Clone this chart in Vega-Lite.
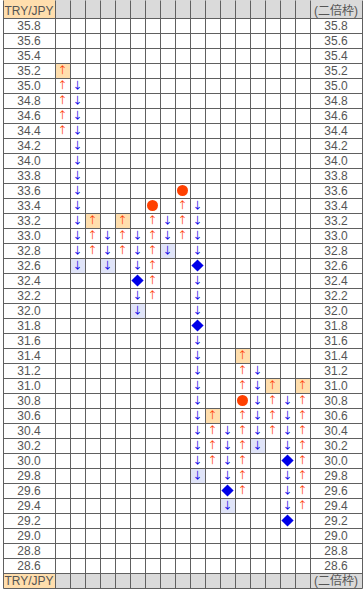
{
  "$schema": "https://vega.github.io/schema/vega-lite/v6.json",
  "width": 359,
  "height": 588,
  "autosize": {"type": "none"},
  "padding": {"left": 3, "top": 0, "right": 2, "bottom": 7},
  "background": "white",
  "config": {
    "view": {"stroke": null},
    "axis": {"domain": false, "ticks": false, "labels": false, "grid": false, "titleOpacity": 0}
  },
  "datasets": {
    "cells": [
      {"col": 1, "price": 35.2, "mark": "↑", "hl": "o"},
      {"col": 1, "price": 35.0, "mark": "↑"},
      {"col": 1, "price": 34.8, "mark": "↑"},
      {"col": 1, "price": 34.6, "mark": "↑"},
      {"col": 1, "price": 34.4, "mark": "↑"},
      {"col": 2, "price": 35.0, "mark": "↓"},
      {"col": 2, "price": 34.8, "mark": "↓"},
      {"col": 2, "price": 34.6, "mark": "↓"},
      {"col": 2, "price": 34.4, "mark": "↓"},
      {"col": 2, "price": 34.2, "mark": "↓"},
      {"col": 2, "price": 34.0, "mark": "↓"},
      {"col": 2, "price": 33.8, "mark": "↓"},
      {"col": 2, "price": 33.6, "mark": "↓"},
      {"col": 2, "price": 33.4, "mark": "↓"},
      {"col": 2, "price": 33.2, "mark": "↓"},
      {"col": 2, "price": 33.0, "mark": "↓"},
      {"col": 2, "price": 32.8, "mark": "↓"},
      {"col": 2, "price": 32.6, "mark": "↓", "hl": "b"},
      {"col": 3, "price": 33.2, "mark": "↑", "hl": "o"},
      {"col": 3, "price": 33.0, "mark": "↑"},
      {"col": 3, "price": 32.8, "mark": "↑"},
      {"col": 4, "price": 33.0, "mark": "↓"},
      {"col": 4, "price": 32.8, "mark": "↓"},
      {"col": 4, "price": 32.6, "mark": "↓", "hl": "b"},
      {"col": 5, "price": 33.2, "mark": "↑", "hl": "o"},
      {"col": 5, "price": 33.0, "mark": "↑"},
      {"col": 5, "price": 32.8, "mark": "↑"},
      {"col": 6, "price": 33.0, "mark": "↓"},
      {"col": 6, "price": 32.8, "mark": "↓"},
      {"col": 6, "price": 32.6, "mark": "↓"},
      {"col": 6, "price": 32.4, "mark": "◆"},
      {"col": 6, "price": 32.2, "mark": "↓"},
      {"col": 6, "price": 32.0, "mark": "↓", "hl": "b"},
      {"col": 7, "price": 33.4, "mark": "●"},
      {"col": 7, "price": 33.2, "mark": "↑"},
      {"col": 7, "price": 33.0, "mark": "↑"},
      {"col": 7, "price": 32.8, "mark": "↑"},
      {"col": 7, "price": 32.6, "mark": "↑"},
      {"col": 7, "price": 32.4, "mark": "↑"},
      {"col": 7, "price": 32.2, "mark": "↑"},
      {"col": 8, "price": 33.2, "mark": "↓"},
      {"col": 8, "price": 33.0, "mark": "↓"},
      {"col": 8, "price": 32.8, "mark": "↓", "hl": "b"},
      {"col": 9, "price": 33.6, "mark": "●"},
      {"col": 9, "price": 33.4, "mark": "↑"},
      {"col": 9, "price": 33.2, "mark": "↑"},
      {"col": 9, "price": 33.0, "mark": "↑"},
      {"col": 10, "price": 33.4, "mark": "↓"},
      {"col": 10, "price": 33.2, "mark": "↓"},
      {"col": 10, "price": 33.0, "mark": "↓"},
      {"col": 10, "price": 32.8, "mark": "↓"},
      {"col": 10, "price": 32.6, "mark": "◆"},
      {"col": 10, "price": 32.4, "mark": "↓"},
      {"col": 10, "price": 32.2, "mark": "↓"},
      {"col": 10, "price": 32.0, "mark": "↓"},
      {"col": 10, "price": 31.8, "mark": "◆"},
      {"col": 10, "price": 31.6, "mark": "↓"},
      {"col": 10, "price": 31.4, "mark": "↓"},
      {"col": 10, "price": 31.2, "mark": "↓"},
      {"col": 10, "price": 31.0, "mark": "↓"},
      {"col": 10, "price": 30.8, "mark": "↓"},
      {"col": 10, "price": 30.6, "mark": "↓"},
      {"col": 10, "price": 30.4, "mark": "↓"},
      {"col": 10, "price": 30.2, "mark": "↓"},
      {"col": 10, "price": 30.0, "mark": "↓"},
      {"col": 10, "price": 29.8, "mark": "↓", "hl": "b"},
      {"col": 11, "price": 30.6, "mark": "↑", "hl": "o"},
      {"col": 11, "price": 30.4, "mark": "↑"},
      {"col": 11, "price": 30.2, "mark": "↑"},
      {"col": 11, "price": 30.0, "mark": "↑"},
      {"col": 12, "price": 30.4, "mark": "↓"},
      {"col": 12, "price": 30.2, "mark": "↓"},
      {"col": 12, "price": 30.0, "mark": "↓"},
      {"col": 12, "price": 29.8, "mark": "↓"},
      {"col": 12, "price": 29.6, "mark": "◆"},
      {"col": 12, "price": 29.4, "mark": "↓", "hl": "b"},
      {"col": 13, "price": 31.4, "mark": "↑", "hl": "o"},
      {"col": 13, "price": 31.2, "mark": "↑"},
      {"col": 13, "price": 31.0, "mark": "↑"},
      {"col": 13, "price": 30.8, "mark": "●"},
      {"col": 13, "price": 30.6, "mark": "↑"},
      {"col": 13, "price": 30.4, "mark": "↑"},
      {"col": 13, "price": 30.2, "mark": "↑"},
      {"col": 13, "price": 30.0, "mark": "↑"},
      {"col": 13, "price": 29.8, "mark": "↑"},
      {"col": 13, "price": 29.6, "mark": "↑"},
      {"col": 14, "price": 31.2, "mark": "↓"},
      {"col": 14, "price": 31.0, "mark": "↓"},
      {"col": 14, "price": 30.8, "mark": "↓"},
      {"col": 14, "price": 30.6, "mark": "↓"},
      {"col": 14, "price": 30.4, "mark": "↓"},
      {"col": 14, "price": 30.2, "mark": "↓", "hl": "b"},
      {"col": 15, "price": 31.0, "mark": "↑", "hl": "o"},
      {"col": 15, "price": 30.8, "mark": "↑"},
      {"col": 15, "price": 30.6, "mark": "↑"},
      {"col": 15, "price": 30.4, "mark": "↑"},
      {"col": 16, "price": 30.8, "mark": "↓"},
      {"col": 16, "price": 30.6, "mark": "↓"},
      {"col": 16, "price": 30.4, "mark": "↓"},
      {"col": 16, "price": 30.2, "mark": "↓"},
      {"col": 16, "price": 30.0, "mark": "◆"},
      {"col": 16, "price": 29.8, "mark": "↓"},
      {"col": 16, "price": 29.6, "mark": "↓"},
      {"col": 16, "price": 29.4, "mark": "↓"},
      {"col": 16, "price": 29.2, "mark": "◆"},
      {"col": 17, "price": 31.0, "mark": "↑", "hl": "o"},
      {"col": 17, "price": 30.8, "mark": "↑"},
      {"col": 17, "price": 30.6, "mark": "↑"},
      {"col": 17, "price": 30.4, "mark": "↑"},
      {"col": 17, "price": 30.2, "mark": "↑"},
      {"col": 17, "price": 30.0, "mark": "↑"},
      {"col": 17, "price": 29.8, "mark": "↑"},
      {"col": 17, "price": 29.6, "mark": "↑"},
      {"col": 17, "price": 29.4, "mark": "↑"}
    ],
    "labels": [
      {"col": 0, "price": 35.8}, {"col": 0, "price": 35.6}, {"col": 0, "price": 35.4}, {"col": 0, "price": 35.2}, {"col": 0, "price": 35.0},
      {"col": 0, "price": 34.8}, {"col": 0, "price": 34.6}, {"col": 0, "price": 34.4}, {"col": 0, "price": 34.2}, {"col": 0, "price": 34.0},
      {"col": 0, "price": 33.8}, {"col": 0, "price": 33.6}, {"col": 0, "price": 33.4}, {"col": 0, "price": 33.2}, {"col": 0, "price": 33.0},
      {"col": 0, "price": 32.8}, {"col": 0, "price": 32.6}, {"col": 0, "price": 32.4}, {"col": 0, "price": 32.2}, {"col": 0, "price": 32.0},
      {"col": 0, "price": 31.8}, {"col": 0, "price": 31.6}, {"col": 0, "price": 31.4}, {"col": 0, "price": 31.2}, {"col": 0, "price": 31.0},
      {"col": 0, "price": 30.8}, {"col": 0, "price": 30.6}, {"col": 0, "price": 30.4}, {"col": 0, "price": 30.2}, {"col": 0, "price": 30.0},
      {"col": 0, "price": 29.8}, {"col": 0, "price": 29.6}, {"col": 0, "price": 29.4}, {"col": 0, "price": 29.2}, {"col": 0, "price": 29.0},
      {"col": 0, "price": 28.8}, {"col": 0, "price": 28.6},
      {"col": 18, "price": 35.8}, {"col": 18, "price": 35.6}, {"col": 18, "price": 35.4}, {"col": 18, "price": 35.2}, {"col": 18, "price": 35.0},
      {"col": 18, "price": 34.8}, {"col": 18, "price": 34.6}, {"col": 18, "price": 34.4}, {"col": 18, "price": 34.2}, {"col": 18, "price": 34.0},
      {"col": 18, "price": 33.8}, {"col": 18, "price": 33.6}, {"col": 18, "price": 33.4}, {"col": 18, "price": 33.2}, {"col": 18, "price": 33.0},
      {"col": 18, "price": 32.8}, {"col": 18, "price": 32.6}, {"col": 18, "price": 32.4}, {"col": 18, "price": 32.2}, {"col": 18, "price": 32.0},
      {"col": 18, "price": 31.8}, {"col": 18, "price": 31.6}, {"col": 18, "price": 31.4}, {"col": 18, "price": 31.2}, {"col": 18, "price": 31.0},
      {"col": 18, "price": 30.8}, {"col": 18, "price": 30.6}, {"col": 18, "price": 30.4}, {"col": 18, "price": 30.2}, {"col": 18, "price": 30.0},
      {"col": 18, "price": 29.8}, {"col": 18, "price": 29.6}, {"col": 18, "price": 29.4}, {"col": 18, "price": 29.2}, {"col": 18, "price": 29.0},
      {"col": 18, "price": 28.8}, {"col": 18, "price": 28.6}
    ],
    "heads": [
      {"col": 0, "price": 36.0, "text": "TRY/JPY"},
      {"col": 18, "price": 36.0, "text": "(二倍枠)"},
      {"col": 0, "price": 28.4, "text": "TRY/JPY"},
      {"col": 18, "price": 28.4, "text": "(二倍枠)"}
    ],
    "one": [{"k": 1}]
  },
  "layer": [
    {
      "data": {"name": "one"},
      "mark": {"type": "rect", "color": "#dadada"},
      "encoding": {
        "x": {"datum": -0.5, "type": "quantitative"}, "x2": {"datum": 18.5},
        "y": {"datum": 35.9, "type": "quantitative"}, "y2": {"datum": 36.14}
      }
    },
    {
      "data": {"name": "one"},
      "mark": {"type": "rect", "color": "#dadada"},
      "encoding": {
        "x": {"datum": -0.5, "type": "quantitative"}, "x2": {"datum": 18.5},
        "y": {"datum": 28.3, "type": "quantitative"}, "y2": {"datum": 28.5}
      }
    },
    {
      "data": {"name": "one"},
      "mark": {"type": "rect", "color": "#ffdead"},
      "encoding": {
        "x": {"datum": -0.5, "type": "quantitative"}, "x2": {"datum": 0.5},
        "y": {"datum": 35.9, "type": "quantitative"}, "y2": {"datum": 36.14}
      }
    },
    {
      "data": {"name": "one"},
      "mark": {"type": "rect", "color": "#ffdead"},
      "encoding": {
        "x": {"datum": -0.5, "type": "quantitative"}, "x2": {"datum": 0.5},
        "y": {"datum": 28.3, "type": "quantitative"}, "y2": {"datum": 28.5}
      }
    },
    {
      "data": {"name": "cells"},
      "transform": [{"filter": {"field": "hl", "equal": "o"}}],
      "mark": {"type": "point", "shape": "square", "size": 225, "filled": true, "opacity": 1, "strokeWidth": 0, "color": "#ffdead"},
      "encoding": {
        "x": {
          "field": "col", "type": "quantitative",
          "scale": {"domain": [-0.5, 0.5, 17.5, 18.5], "range": [0, 52, 307, 359], "nice": false, "zero": false},
          "axis": {
            "title": null, "labels": false, "ticks": false, "domain": false, "tickCount": 100,
            "grid": true, "gridColor": "#606060", "gridOpacity": 1, "gridWidth": 1, "zindex": 1,
            "values": [-0.5, 0.5, 1.5, 2.5, 3.5, 4.5, 5.5, 6.5, 7.5, 8.5, 9.5, 10.5, 11.5, 12.5, 13.5, 14.5, 15.5, 16.5, 17.5, 18.5]
          }
        },
        "y": {
          "field": "price", "type": "quantitative",
          "scale": {"domain": [28.3, 36.14], "nice": false, "zero": false},
          "axis": {
            "title": null, "labels": false, "ticks": false, "domain": false, "tickCount": 100,
            "grid": true, "gridColor": "#606060", "gridOpacity": 1, "gridWidth": 1, "zindex": 1,
            "values": [28.3, 28.5, 28.7, 28.9, 29.1, 29.3, 29.5, 29.7, 29.9, 30.1, 30.3, 30.5, 30.7, 30.9, 31.1, 31.3, 31.5, 31.7, 31.9, 32.1, 32.3, 32.5, 32.7, 32.9, 33.1, 33.3, 33.5, 33.7, 33.9, 34.1, 34.3, 34.5, 34.7, 34.9, 35.1, 35.3, 35.5, 35.7, 35.9]
          }
        }
      }
    },
    {
      "data": {"name": "cells"},
      "transform": [{"filter": {"field": "hl", "equal": "b"}}],
      "mark": {"type": "point", "shape": "square", "size": 225, "filled": true, "opacity": 1, "strokeWidth": 0, "color": "#e0e4f8"},
      "encoding": {"x": {"field": "col", "type": "quantitative"}, "y": {"field": "price", "type": "quantitative"}}
    },
    {
      "data": {"name": "cells"},
      "transform": [{"filter": {"field": "mark", "equal": "↑"}}],
      "mark": {"type": "text", "font": "Noto Sans CJK JP", "fontSize": 10, "baseline": "middle", "align": "center", "color": "#ff4000"},
      "encoding": {"x": {"field": "col", "type": "quantitative"}, "y": {"field": "price", "type": "quantitative"}, "text": {"field": "mark"}}
    },
    {
      "data": {"name": "cells"},
      "transform": [{"filter": {"field": "mark", "equal": "↓"}}],
      "mark": {"type": "text", "font": "Noto Sans CJK JP", "fontSize": 10, "baseline": "middle", "align": "center", "color": "#0000e8"},
      "encoding": {"x": {"field": "col", "type": "quantitative"}, "y": {"field": "price", "type": "quantitative"}, "text": {"field": "mark"}}
    },
    {
      "data": {"name": "cells"},
      "transform": [{"filter": {"field": "mark", "equal": "●"}}],
      "mark": {"type": "point", "shape": "circle", "size": 121, "filled": true, "opacity": 1, "strokeWidth": 0, "color": "#ff4000"},
      "encoding": {"x": {"field": "col", "type": "quantitative"}, "y": {"field": "price", "type": "quantitative"}}
    },
    {
      "data": {"name": "cells"},
      "transform": [{"filter": {"field": "mark", "equal": "◆"}}],
      "mark": {"type": "point", "shape": "diamond", "size": 150, "filled": true, "opacity": 1, "strokeWidth": 0, "color": "#0000e8"},
      "encoding": {"x": {"field": "col", "type": "quantitative"}, "y": {"field": "price", "type": "quantitative"}}
    },
    {
      "data": {"name": "labels"},
      "mark": {"type": "text", "font": "Liberation Sans Narrow, Liberation Sans", "fontSize": 12, "baseline": "middle", "align": "center", "color": "#555555"},
      "encoding": {
        "x": {"field": "col", "type": "quantitative"},
        "y": {"field": "price", "type": "quantitative"},
        "text": {"field": "price", "type": "quantitative", "format": ".1f"}
      }
    },
    {
      "data": {"name": "heads"},
      "mark": {"type": "text", "font": "Liberation Sans, Noto Sans CJK JP", "fontSize": 12, "baseline": "middle", "align": "center", "color": "#555555"},
      "encoding": {
        "x": {"field": "col", "type": "quantitative"},
        "y": {"field": "price", "type": "quantitative"},
        "text": {"field": "text"}
      }
    }
  ]
}
